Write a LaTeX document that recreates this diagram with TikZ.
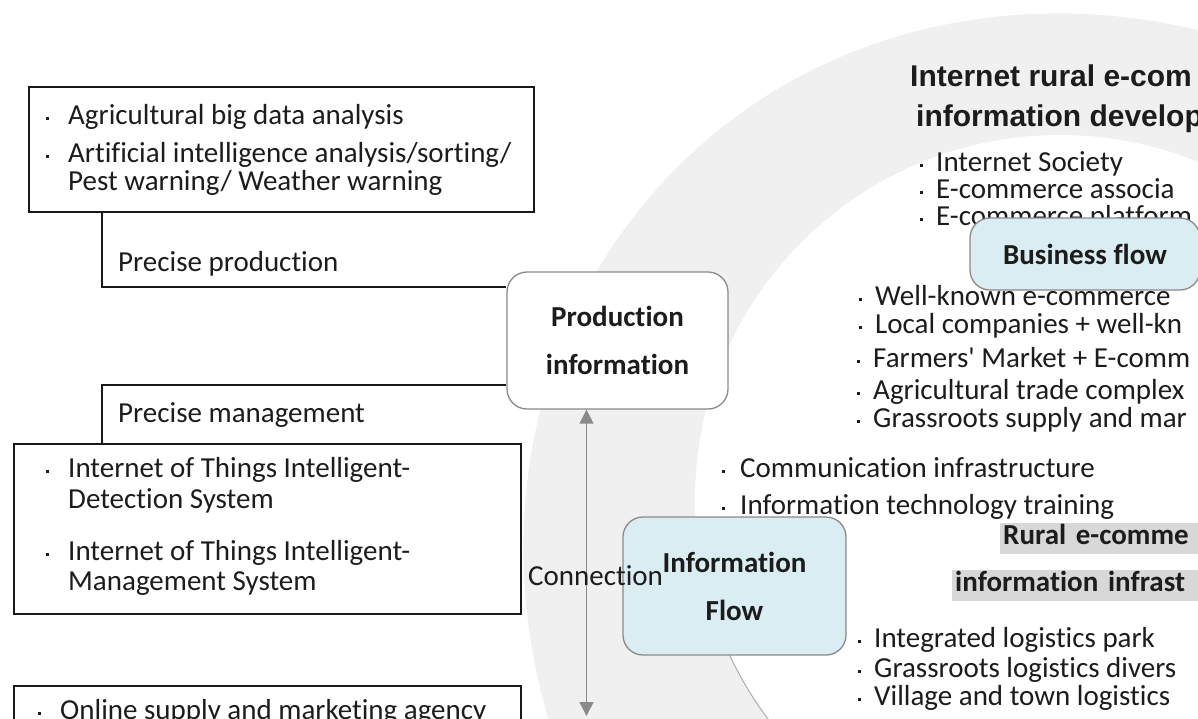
\documentclass[tikz,border=0pt]{standalone}
\usepackage{fontspec}
\setmainfont{Carlito}[Ligatures={NoCommon}]
\newfontfamily\headfont{Liberation Sans}
\usetikzlibrary{arrows.meta}

\definecolor{ringgray}{HTML}{F0F0F0}
\definecolor{flowblue}{HTML}{DAEDF3}
\definecolor{frame}{HTML}{8A8A8A}
\definecolor{marker}{HTML}{D8D8D8}
\definecolor{ink}{HTML}{1C1C1C}

% small square bullet followed by its text
\newcommand\bulitem[2][16pt]{\makebox[#1][l]{\rule[0.32ex]{2.6pt}{2.6pt}}#2}

\begin{document}
\begin{tikzpicture}[
		x=1pt,
		y=-1pt,
		every node/.style={font=\fontsize{29}{31}\selectfont, text=ink, inner sep=0pt},
		listbox/.style={draw=black!90, line width=1.6pt, anchor=north west},
		item/.style={anchor=base west},
		infobox/.style={draw=frame, line width=1.3pt, rounded corners=20pt, align=center,
			font=\fontsize{29}{48}\selectfont\bfseries},
		headline/.style={anchor=base west, font=\headfont\bfseries\fontsize{30}{32}\selectfont},
		marked/.style={anchor=base west, fill=marker, text width=260pt, align=left, inner xsep=3pt,
			inner ysep=1.5pt, text height=20pt, text depth=8pt, font=\bfseries\fontsize{29}{31}\selectfont},
		link/.style={draw=black!90, line width=1.5pt},
		conn/.style={draw=frame, line width=1.5pt, {Triangle[width=14pt,length=14pt]}-{Triangle[width=14pt,length=14pt]}}
		]
		
		\useasboundingbox (0,0) rectangle (1198,718);
		\clip (0,0) rectangle (1198,718);
		
		% background ring
		\fill[ringgray, rotate around={-45:(1110,600)}] (1110,600) ellipse [x radius=612, y radius=560];
		\fill[white] (1060,500) circle (365);
		\draw[frame!70, line width=1pt] (1060,500) ++(158:365) arc[start angle=158, end angle=125, radius=365];
		
		% left column: list boxes
		\node[listbox, minimum width=505, minimum height=125] (bigdata) at (28,86) {};
		\node[item] (bigdata1) at (46,124) {\bulitem[22pt]{Agricultural big data analysis}};
		\node[item] (bigdata2) at (46,162) {\bulitem[22pt]{Artificial intelligence analysis/sorting/}};
		\node[item] (bigdata3) at (68,190) {Pest warning/ Weather warning};
		
		\node[item] (precprod) at (118,271) {Precise production};
		\node[item] (precmgmt) at (118,422) {Precise management};
		
		\node[listbox, minimum width=507, minimum height=170] (iotbox) at (13,443) {};
		\node[item] (iot1) at (46,477) {\bulitem[22pt]{Internet of Things Intelligent-}};
		\node[item] (iot2) at (68,508) {Detection System};
		\node[item] (iot3) at (46,560) {\bulitem[22pt]{Internet of Things Intelligent-}};
		\node[item] (iot4) at (68,590) {Management System};
		
		\node[listbox, minimum width=507, minimum height=80] (agency) at (13,685) {};
		\node[item] (agency1) at (38,719) {\bulitem[22pt]{Online supply and marketing agency}};
		
		% right column: texts on the ring
		\node[headline] (devtitle1) at (910,86) {Internet rural e-com};
		\node[headline] (devtitle2) at (916,126) {information develop};
		\node[item] (dev1) at (920,171) {\bulitem{Internet Society}};
		\node[item] (dev2) at (920,198) {\bulitem{E-commerce associa}};
		\node[item] (dev3) at (920,225) {\bulitem{E-commerce platform}};
		
		\node[infobox, fill=flowblue, minimum width=230, minimum height=72] (business) at (1085,254) {Business flow};
		
		\node[item] (trade1) at (859,305) {\bulitem{Well-known e-commerce}};
		\node[item] (trade2) at (859,333) {\bulitem{Local companies + well-kn}};
		\node[item] (trade3) at (857,367) {\bulitem{Farmers\textquotesingle\ Market + E-comm}};
		\node[item] (trade4) at (857,399) {\bulitem{Agricultural trade complex}};
		\node[item] (trade5) at (857,427) {\bulitem{Grassroots supply and mar}};
		
		\node[item] (infra1) at (722,477) {\bulitem[18pt]{Communication infrastructure}};
		\node[item] (infra2) at (722,514) {\bulitem[18pt]{Information technology training}};
		
		\node[marked] (infratitle1) at (1000,544) {Rural e-comme};
		\node[marked] (infratitle2) at (952,591) {information infrast};
		
		\node[item] (logi1) at (858,647) {\bulitem{Integrated logistics park}};
		\node[item] (logi2) at (858,677) {\bulitem{Grassroots logistics divers}};
		\node[item] (logi3) at (858,705) {\bulitem{Village and town logistics}};
		
		% centre: the two flow boxes
		\node[infobox, fill=white, minimum width=221, minimum height=137] (prodinfo) at (617.5,340.5) {Production\\information};
		\node[infobox, fill=flowblue, minimum width=223, minimum height=138] (infoflow) at (734.5,586) {Information\\Flow};
		
		% connectors
		\draw[link] ([xshift=74pt]bigdata.south west) |- ([yshift=53.5pt]prodinfo.west);
		\draw[link] ([yshift=-44.5pt]prodinfo.west) -| ([xshift=89pt]iotbox.north west);
		\coordinate (arrowend) at (586.5,716);
		\draw[conn] ([xshift=-31pt]prodinfo.south) -- (arrowend);
		\node[item] (conlabel) at (528,585) {Connection};
		
	\end{tikzpicture}
\end{document}
